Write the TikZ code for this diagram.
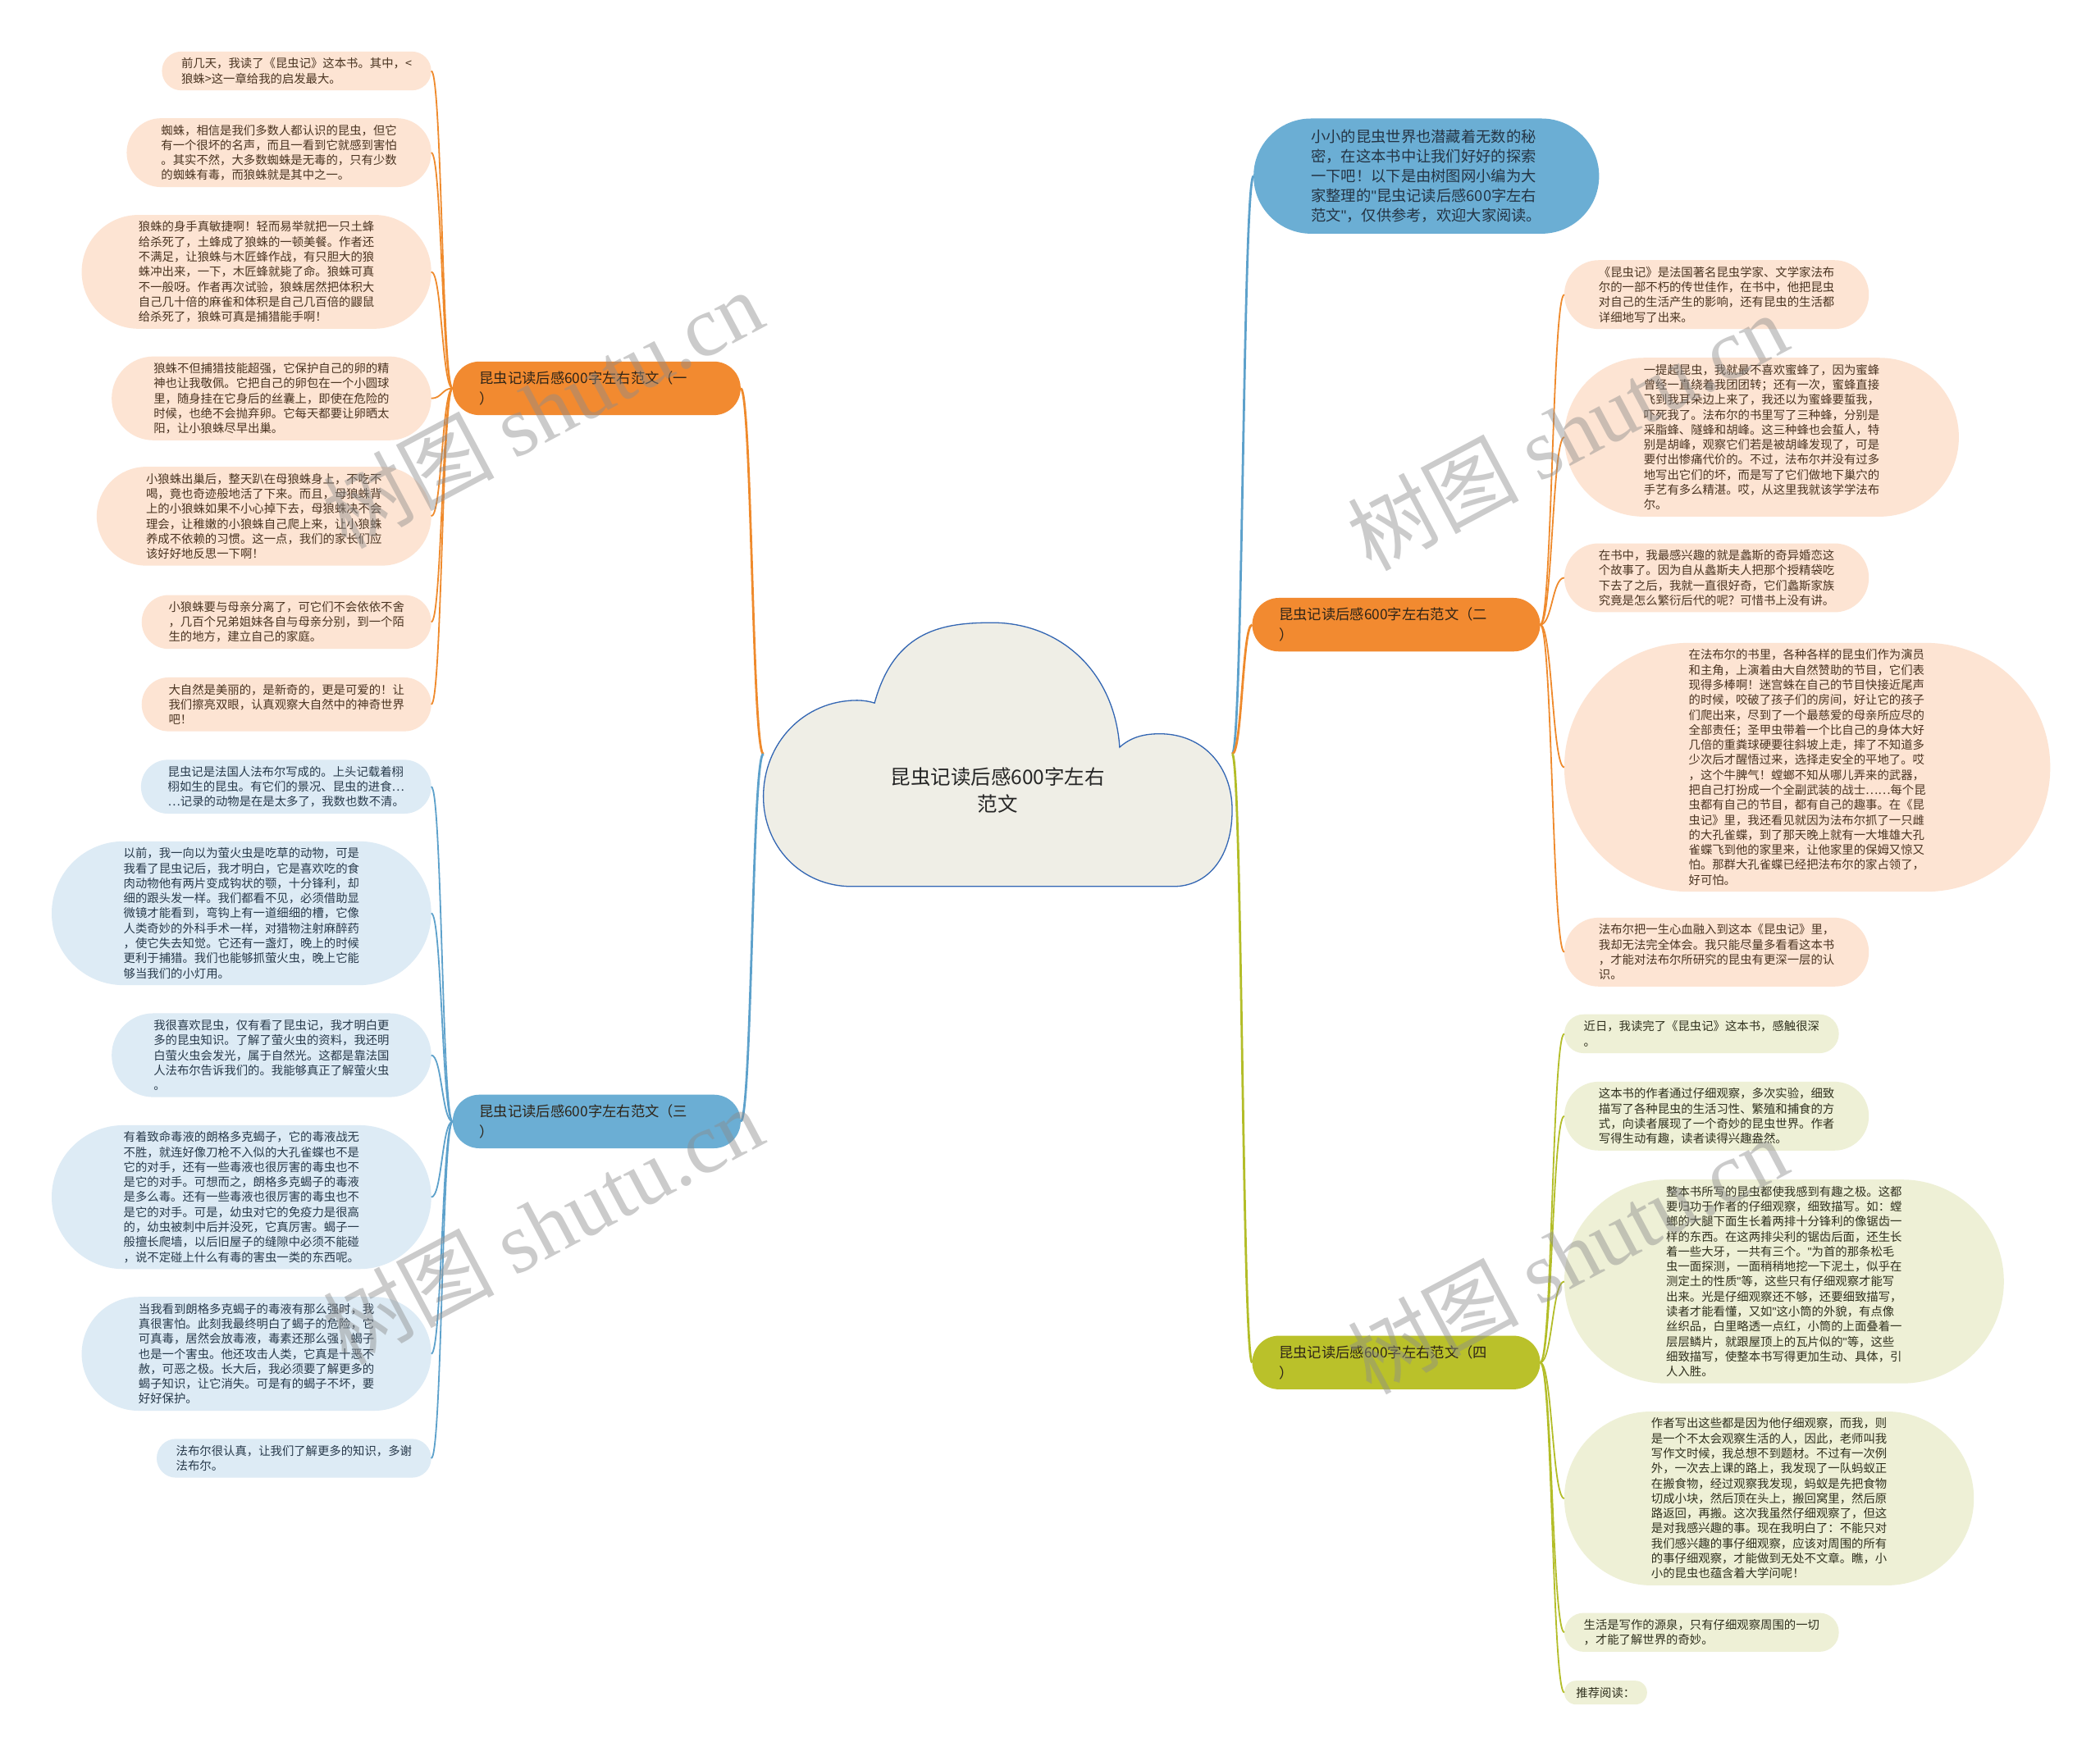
\documentclass[tikz,border=0pt]{standalone}
\usepackage{fontspec}
\setmainfont{Noto Sans CJK SC}
\newfontfamily\wmlat{Liberation Serif}
\newfontfamily\qfont{Liberation Sans}
\newcommand\dq{{\qfont\symbol{34}}}
\usetikzlibrary{calc}

\definecolor{orgN}{HTML}{F28A30}
\definecolor{orgL}{HTML}{EF8A2C}
\definecolor{peach}{HTML}{FDE4D3}
\definecolor{peachT}{HTML}{4A3421}
\definecolor{bluN}{HTML}{6BAED4}
\definecolor{bluL}{HTML}{5DA1CB}
\definecolor{bluF}{HTML}{DDEBF5}
\definecolor{bluT}{HTML}{283A4B}
\definecolor{grnN}{HTML}{BAC12A}
\definecolor{grnL}{HTML}{B3BD28}
\definecolor{grnF}{HTML}{EEF0D6}
\definecolor{grnT}{HTML}{30301E}
\definecolor{cloudF}{HTML}{EFEEE6}
\definecolor{cloudB}{HTML}{3366B3}
\definecolor{brT}{HTML}{2E2418}

\begin{document}
\begin{tikzpicture}[x=1pt,y=-1pt,
  leaf/.style={rectangle, inner ysep=4pt, outer sep=0pt, align=left,
    inner xsep=#1, minimum height={2*#1}, rounded corners={#1-0.05pt},
    font=\fontsize{8.8pt}{11.2pt}\selectfont},
  lo/.style={leaf=#1, fill=peach, text=peachT, anchor=east},
  lb/.style={leaf=#1, fill=bluF, text=bluT, anchor=east},
  ro/.style={leaf=#1, fill=peach, text=peachT, anchor=west},
  rg/.style={leaf=#1, fill=grnF, text=grnT, anchor=west},
  branch/.style={rectangle, inner xsep=20pt, inner ysep=4pt, outer sep=0pt,
    minimum height=40pt, rounded corners=19.95pt,
    text width=175pt, align=left, text=brT, font=\fontsize{10.6pt}{15pt}\selectfont},
  intro/.style={rectangle, inner xsep=43pt, inner ysep=5pt, outer sep=0pt,
    minimum height=86pt, rounded corners=42.95pt,
    align=left, fill=bluN, text=bluT!90!black, font=\fontsize{11.2pt}{14.6pt}\selectfont},
  hc/.style={to path={let \p1=(\tikztostart), \p2=(\tikztotarget) in
    .. controls ({(\x1+\x2)/2},\y1) and ({(\x1+\x2)/2},\y2) .. (\tikztotarget)}},
  mainc/.style={hc, line width=1.7pt},
  leafc/.style={hc, line width=1.1pt},
  wm/.style={rotate=28, text=black!45, text opacity=0.45, font=\fontsize{64pt}{70pt}\selectfont}
]
\useasboundingbox (0,0) rectangle (1568,1311);
\fill[white] (0,0) rectangle (1568,1311);

% ---- root cloud ----
\draw[fill=cloudF, draw=cloudB, line width=0.8pt]
  (653,525) .. controls (668,470) and (705,465) .. (741,465)
  .. controls (790,465) and (832,500) .. (836,558)
  .. controls (845,550) and (855,548) .. (866,548)
  .. controls (898,548) and (920,572) .. (920,605)
  .. controls (920,640) and (902,662) .. (876,662)
  -- (636,662)
  .. controls (598,662) and (570,632) .. (570,595)
  .. controls (570,555) and (600,523) .. (640,523)
  .. controls (645,523) and (650,524) .. (653,525) -- cycle;
\node[font=\fontsize{15pt}{20pt}\selectfont, align=center, text=black!85] (root) at (745,590)
  {昆虫记读后感600字左右\\范文};
\coordinate (rootL) at (570,563);
\coordinate (rootR) at (920,563);

% ---- branch nodes ----
\node[branch, fill=orgN] (b1) at (445.5,290) {昆虫记读后感600字左右范文（一\\）};
\node[branch, fill=bluN] (b3) at (445.5,837.5) {昆虫记读后感600字左右范文（三\\）};
\node[branch, fill=orgN] (b2) at (1042.5,466.5) {昆虫记读后感600字左右范文（二\\）};
\node[branch, fill=grnN] (b4) at (1042.5,1017.5) {昆虫记读后感600字左右范文（四\\）};
\node[intro, anchor=west] (intro) at (936,131.5)
  {小小的昆虫世界也潜藏着无数的秘\\密，在这本书中让我们好好的探索\\一下吧！以下是由树图网小编为大\\家整理的\dq 昆虫记读后感600字左右\\范文\dq ，仅供参考，欢迎大家阅读。};

% ---- left leaves, branch 1 ----
\node[lo=14.5pt] (l1) at (322,53) {前几天，我读了《昆虫记》这本书。其中，<\\狼蛛>这一章给我的启发最大。};
\node[lo=25.7pt] (l2) at (322,114) {蜘蛛，相信是我们多数人都认识的昆虫，但它\\有一个很坏的名声，而且一看到它就感到害怕\\。其实不然，大多数蜘蛛是无毒的，只有少数\\的蜘蛛有毒，而狼蛛就是其中之一。};
\node[lo=42.5pt] (l3) at (322,203) {狼蛛的身手真敏捷啊！轻而易举就把一只土蜂\\给杀死了，土蜂成了狼蛛的一顿美餐。作者还\\不满足，让狼蛛与木匠蜂作战，有只胆大的狼\\蛛冲出来，一下，木匠蜂就毙了命。狼蛛可真\\不一般呀。作者再次试验，狼蛛居然把体积大\\自己几十倍的麻雀和体积是自己几百倍的鼹鼠\\给杀死了，狼蛛可真是捕猎能手啊！};
\node[lo=31.3pt] (l4) at (322,297.5) {狼蛛不但捕猎技能超强，它保护自己的卵的精\\神也让我敬佩。它把自己的卵包在一个小圆球\\里，随身挂在它身后的丝囊上，即使在危险的\\时候，也绝不会抛弃卵。它每天都要让卵晒太\\阳，让小狼蛛尽早出巢。};
\node[lo=36.9pt] (l5) at (322,385.5) {小狼蛛出巢后，整天趴在母狼蛛身上，不吃不\\喝，竟也奇迹般地活了下来。而且，母狼蛛背\\上的小狼蛛如果不小心掉下去，母狼蛛决不会\\理会，让稚嫩的小狼蛛自己爬上来，让小狼蛛\\养成不依赖的习惯。这一点，我们的家长们应\\该好好地反思一下啊！};
\node[lo=20.1pt] (l6) at (322,464.5) {小狼蛛要与母亲分离了，可它们不会依依不舍\\，几百个兄弟姐妹各自与母亲分别，到一个陌\\生的地方，建立自己的家庭。};
\node[lo=20.1pt] (l7) at (322,526) {大自然是美丽的，是新奇的，更是可爱的！让\\我们擦亮双眼，认真观察大自然中的神奇世界\\吧！};

% ---- left leaves, branch 3 ----
\node[lb=20.1pt] (l8) at (322,587.5) {昆虫记是法国人法布尔写成的。上头记载着栩\\栩如生的昆虫。有它们的景况、昆虫的进食…\\…记录的动物是在是太多了，我数也数不清。};
\node[lb=53.7pt] (l9) at (322,682) {以前，我一向以为萤火虫是吃草的动物，可是\\我看了昆虫记后，我才明白，它是喜欢吃的食\\肉动物他有两片变成钩状的颚，十分锋利，却\\细的跟头发一样。我们都看不见，必须借助显\\微镜才能看到，弯钩上有一道细细的槽，它像\\人类奇妙的外科手术一样，对猎物注射麻醉药\\，使它失去知觉。它还有一盏灯，晚上的时候\\更利于捕猎。我们也能够抓萤火虫，晚上它能\\够当我们的小灯用。};
\node[lb=31.3pt] (l10) at (322,788) {我很喜欢昆虫，仅有看了昆虫记，我才明白更\\多的昆虫知识。了解了萤火虫的资料，我还明\\白萤火虫会发光，属于自然光。这都是靠法国\\人法布尔告诉我们的。我能够真正了解萤火虫\\。};
\node[lb=53.7pt] (l11) at (322,894) {有着致命毒液的朗格多克蝎子，它的毒液战无\\不胜，就连好像刀枪不入似的大孔雀蝶也不是\\它的对手，还有一些毒液也很厉害的毒虫也不\\是它的对手。可想而之，朗格多克蝎子的毒液\\是多么毒。还有一些毒液也很厉害的毒虫也不\\是它的对手。可是，幼虫对它的免疫力是很高\\的，幼虫被刺中后并没死，它真厉害。蝎子一\\般擅长爬墙，以后旧屋子的缝隙中必须不能碰\\，说不定碰上什么有毒的害虫一类的东西呢。};
\node[lb=42.5pt] (l12) at (322,1011) {当我看到朗格多克蝎子的毒液有那么强时，我\\真很害怕。此刻我最终明白了蝎子的危险，它\\可真毒，居然会放毒液，毒素还那么强，蝎子\\也是一个害虫。他还攻击人类，它真是十恶不\\赦，可恶之极。长大后，我必须要了解更多的\\蝎子知识，让它消失。可是有的蝎子不坏，要\\好好保护。};
\node[lb=14.5pt] (l13) at (322,1089) {法布尔很认真，让我们了解更多的知识，多谢\\法布尔。};

% ---- right leaves, branch 2 ----
\node[ro=25.7pt] (r1) at (1168,220) {《昆虫记》是法国著名昆虫学家、文学家法布\\尔的一部不朽的传世佳作，在书中，他把昆虫\\对自己的生活产生的影响，还有昆虫的生活都\\详细地写了出来。};
\node[ro=59.3pt] (r2) at (1168,326.5) {一提起昆虫，我就最不喜欢蜜蜂了，因为蜜蜂\\曾经一直绕着我团团转；还有一次，蜜蜂直接\\飞到我耳朵边上来了，我还以为蜜蜂要蜇我，\\吓死我了。法布尔的书里写了三种蜂，分别是\\采脂蜂、隧蜂和胡峰。这三种蜂也会蜇人，特\\别是胡峰，观察它们若是被胡峰发现了，可是\\要付出惨痛代价的。不过，法布尔并没有过多\\地写出它们的坏，而是写了它们做地下巢穴的\\手艺有多么精湛。哎，从这里我就该学学法布\\尔。};
\node[ro=25.7pt] (r3) at (1168,431.5) {在书中，我最感兴趣的就是蠡斯的奇异婚恋这\\个故事了。因为自从蠡斯夫人把那个授精袋吃\\下去了之后，我就一直很好奇，它们蠡斯家族\\究竟是怎么繁衍后代的呢？可惜书上没有讲。};
\node[ro=92.9pt] (r4) at (1168,573) {在法布尔的书里，各种各样的昆虫们作为演员\\和主角，上演着由大自然赞助的节目，它们表\\现得多棒啊！迷宫蛛在自己的节目快接近尾声\\的时候，咬破了孩子们的房间，好让它的孩子\\们爬出来，尽到了一个最慈爱的母亲所应尽的\\全部责任；圣甲虫带着一个比自己的身体大好\\几倍的重粪球硬要往斜坡上走，摔了不知道多\\少次后才醒悟过来，选择走安全的平地了。哎\\，这个牛脾气！螳螂不知从哪儿弄来的武器，\\把自己打扮成一个全副武装的战士……每个昆\\虫都有自己的节目，都有自己的趣事。在《昆\\虫记》里，我还看见就因为法布尔抓了一只雌\\的大孔雀蝶，到了那天晚上就有一大堆雄大孔\\雀蝶飞到他的家里来，让他家里的保姆又惊又\\怕。那群大孔雀蝶已经把法布尔的家占领了，\\好可怕。};
\node[ro=25.7pt] (r5) at (1168,711) {法布尔把一生心血融入到这本《昆虫记》里，\\我却无法完全体会。我只能尽量多看看这本书\\，才能对法布尔所研究的昆虫有更深一层的认\\识。};

% ---- right leaves, branch 4 ----
\node[rg=14.5pt] (r6) at (1168,772) {近日，我读完了《昆虫记》这本书，感触很深\\。};
\node[rg=25.7pt] (r7) at (1168,833.5) {这本书的作者通过仔细观察，多次实验，细致\\描写了各种昆虫的生活习性、繁殖和捕食的方\\式，向读者展现了一个奇妙的昆虫世界。作者\\写得生动有趣，读者读得兴趣盎然。};
\node[rg=76.1pt] (r8) at (1168,957) {整本书所写的昆虫都使我感到有趣之极。这都\\要归功于作者的仔细观察，细致描写。如：螳\\螂的大腿下面生长着两排十分锋利的像锯齿一\\样的东西。在这两排尖利的锯齿后面，还生长\\着一些大牙，一共有三个。\dq 为首的那条松毛\\虫一面探测，一面稍稍地挖一下泥土，似乎在\\测定土的性质\dq 等，这些只有仔细观察才能写\\出来。光是仔细观察还不够，还要细致描写，\\读者才能看懂，又如\dq 这小筒的外貌，有点像\\丝织品，白里略透一点红，小筒的上面叠着一\\层层鳞片，就跟屋顶上的瓦片似的\dq 等，这些\\细致描写，使整本书写得更加生动、具体，引\\人入胜。};
\node[rg=64.9pt] (r9) at (1168,1119) {作者写出这些都是因为他仔细观察，而我，则\\是一个不太会观察生活的人，因此，老师叫我\\写作文时候，我总想不到题材。不过有一次例\\外，一次去上课的路上，我发现了一队蚂蚁正\\在搬食物，经过观察我发现，蚂蚁是先把食物\\切成小块，然后顶在头上，搬回窝里，然后原\\路返回，再搬。这次我虽然仔细观察了，但这\\是对我感兴趣的事。现在我明白了：不能只对\\我们感兴趣的事仔细观察，应该对周围的所有\\的事仔细观察，才能做到无处不文章。瞧，小\\小的昆虫也蕴含着大学问呢！};
\node[rg=14.5pt] (r10) at (1168,1219) {生活是写作的源泉，只有仔细观察周围的一切\\，才能了解世界的奇妙。};
\node[rg=8.9pt] (r11) at (1168,1264) {推荐阅读：};

% ---- connectors: root to branches ----
\draw[mainc, orgL] (rootL) to (b1.east);
\draw[mainc, bluL] (rootL) to (b3.east);
\draw[mainc, bluL] (rootR) to (intro.west);
\draw[mainc, orgL] (rootR) to (b2.west);
\draw[mainc, grnL] (rootR) to (b4.west);

% ---- connectors: branches to leaves ----
\foreach \nd in {l1,l2,l3,l4,l5,l6,l7}{\draw[leafc, orgL] (b1.west) to (\nd.east);}
\foreach \nd in {l8,l9,l10,l11,l12,l13}{\draw[leafc, bluL] (b3.west) to (\nd.east);}
\foreach \nd in {r1,r2,r3,r4,r5}{\draw[leafc, orgL] (b2.east) to (\nd.west);}
\foreach \nd in {r6,r7,r8,r9,r10,r11}{\draw[leafc, grnL] (b4.east) to (\nd.west);}

% ---- watermarks ----
\node[wm] (wm1) at (405,305) {树图 {\wmlat shutu.cn}};
\node[wm] (wm2) at (1170,322) {树图 {\wmlat shutu.cn}};
\node[wm] (wm3) at (405,915) {树图 {\wmlat shutu.cn}};
\node[wm] (wm4) at (1170,937) {树图 {\wmlat shutu.cn}};
\end{tikzpicture}
\end{document}
